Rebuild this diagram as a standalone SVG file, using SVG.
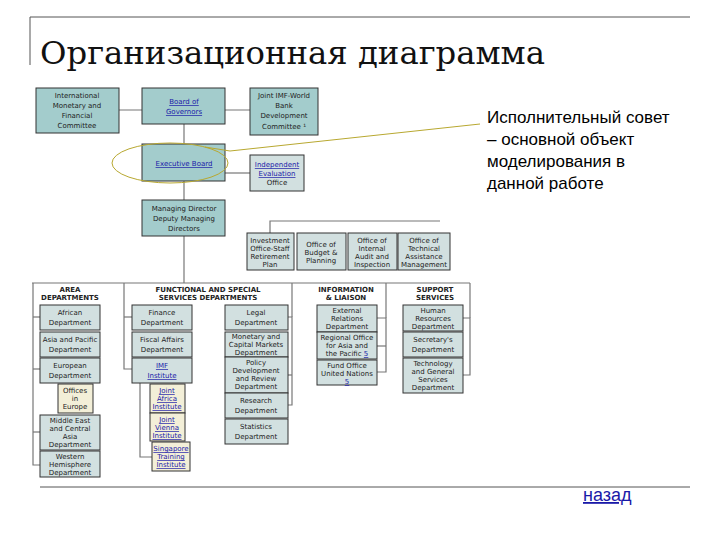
<svg xmlns="http://www.w3.org/2000/svg" width="720" height="540" viewBox="0 0 720 540">
<style>
.t{fill:#a3cccc;stroke:#333;stroke-width:1}
.g{fill:#d2e0e0;stroke:#333;stroke-width:1}
.b{fill:#f3efd8;stroke:#333;stroke-width:1}
text{font-family:"DejaVu Sans",sans-serif;font-size:7px;fill:#222;text-anchor:middle}
.l{fill:#1a1aa8;text-decoration:underline}
.h{font-weight:bold;font-size:7px}
text.ti{font-family:"DejaVu Serif","Liberation Serif",serif;font-size:32px;text-anchor:start;fill:#111}
text.r{font-family:"Liberation Sans",Arial,sans-serif;font-size:17px;text-anchor:start;fill:#000}
text.bk{font-family:"Liberation Sans",Arial,sans-serif;font-size:18px;text-anchor:start;fill:#1a1aa8;text-decoration:underline}
.c line,.c polyline{stroke:#777;stroke-width:1.2;fill:none}
</style>
<rect width="720" height="540" fill="#fff"/>
<g id="frame" stroke="#555" stroke-width="1" fill="none">
<line x1="30" y1="17" x2="690" y2="17"/><line x1="30" y1="17" x2="30" y2="65"/>
<line x1="40" y1="487" x2="690" y2="487"/>
</g>
<text class="ti" x="40" y="64" textLength="505" lengthAdjust="spacingAndGlyphs">Организационная диаграмма</text>
<g class="c">
<line x1="119" y1="110" x2="250" y2="110"/>
<line x1="184" y1="124" x2="184" y2="144"/>
<line x1="225" y1="173" x2="250" y2="173"/>
<line x1="184" y1="181" x2="184" y2="283"/>
<polyline points="270,233 270,221 440,221"/>
<line x1="32" y1="283" x2="470" y2="283"/>
<polyline points="33,283 33,465 40,465"/>
<line x1="33" y1="317" x2="40" y2="317"/><line x1="33" y1="369" x2="40" y2="369"/><line x1="33" y1="432" x2="40" y2="432"/>
<polyline points="124,283 124,369 132,369"/><line x1="124" y1="317" x2="132" y2="317"/>
<polyline points="140,383 140,457 152,457"/>
<polyline points="288,317 292,317 292,405 288,405"/><line x1="288" y1="375" x2="292" y2="375"/>
<polyline points="292,283 292,317"/>
<polyline points="377,318 386,318 386,372 377,372"/><line x1="377" y1="346" x2="386" y2="346"/><line x1="386" y1="283" x2="386" y2="318"/>
<polyline points="463,318 470,318 470,375 463,375"/><line x1="470" y1="283" x2="470" y2="318"/>
</g>
<g id="imfc"><rect class="t" x="36" y="88" width="83" height="45"/><text x="77" y="98">International</text><text x="77" y="108">Monetary and</text><text x="77" y="118">Financial</text><text x="77" y="128">Committee</text></g>
<g id="bog"><rect class="t" x="142" y="88" width="83" height="36"/><text class="l" x="184" y="104">Board of</text><text class="l" x="184" y="114">Governors</text></g>
<g id="dc"><rect class="t" x="250" y="88" width="68" height="47"/><text x="284" y="98">Joint IMF-World</text><text x="284" y="108">Bank</text><text x="284" y="118">Development</text><text x="284" y="129">Committee ¹</text></g>
<g id="eb"><rect class="t" x="142" y="144" width="83" height="37"/><text class="l" x="184" y="166">Executive Board</text></g>
<g id="ieo"><rect class="g" x="250" y="155" width="54" height="36"/><text class="l" x="277" y="167">Independent</text><text class="l" x="277" y="176">Evaluation</text><text x="277" y="185">Office</text></g>
<g id="md"><rect class="t" x="142" y="200" width="83" height="36"/><text x="184" y="211">Managing Director</text><text x="184" y="221">Deputy Managing</text><text x="184" y="231">Directors</text></g>
<g id="inv"><rect class="g" x="247" y="233" width="47" height="37"/><text x="270" y="243">Investment</text><text x="270" y="251">Office-Staff</text><text x="270" y="259">Retirement</text><text x="270" y="267">Plan</text></g>
<g id="obp"><rect class="g" x="297" y="233" width="49" height="37"/><text x="321" y="247">Office of</text><text x="321" y="255">Budget &amp;</text><text x="321" y="263">Planning</text></g>
<g id="oia"><rect class="g" x="348" y="233" width="49" height="37"/><text x="372" y="243">Office of</text><text x="372" y="251">Internal</text><text x="372" y="259">Audit and</text><text x="372" y="267">Inspection</text></g>
<g id="ota"><rect class="g" x="398" y="233" width="52" height="37"/><text x="424" y="243">Office of</text><text x="424" y="251">Technical</text><text x="424" y="259">Assistance</text><text x="424" y="267">Management</text></g>
<g id="heads"><text class="h" x="70" y="292">AREA</text><text class="h" x="70" y="300">DEPARTMENTS</text>
<text class="h" x="208" y="292">FUNCTIONAL AND SPECIAL</text><text class="h" x="208" y="300">SERVICES DEPARTMENTS</text>
<text class="h" x="346" y="292">INFORMATION</text><text class="h" x="346" y="300">&amp; LIAISON</text>
<text class="h" x="435" y="292">SUPPORT</text><text class="h" x="435" y="300">SERVICES</text></g>
<g id="afr"><rect class="g" x="40" y="305" width="60" height="25"/><text x="70" y="315">African</text><text x="70" y="325">Department</text></g>
<g id="apd"><rect class="g" x="40" y="332" width="60" height="25"/><text x="70" y="342">Asia and Pacific</text><text x="70" y="352">Department</text></g>
<g id="eur"><rect class="g" x="40" y="358" width="60" height="25"/><text x="70" y="368">European</text><text x="70" y="378">Department</text></g>
<g id="oie"><rect class="b" x="58" y="384" width="35" height="29"/><text x="75" y="393">Offices</text><text x="75" y="401">in</text><text x="75" y="409">Europe</text></g>
<g id="mcd"><rect class="g" x="40" y="415" width="60" height="35"/><text x="70" y="423">Middle East</text><text x="70" y="431">and Central</text><text x="70" y="439">Asia</text><text x="70" y="447">Department</text></g>
<g id="whd"><rect class="g" x="40" y="451" width="60" height="26"/><text x="70" y="459">Western</text><text x="70" y="467">Hemisphere</text><text x="70" y="475">Department</text></g>
<g id="fin"><rect class="g" x="132" y="305" width="60" height="25"/><text x="162" y="315">Finance</text><text x="162" y="325">Department</text></g>
<g id="fad"><rect class="g" x="132" y="332" width="60" height="25"/><text x="162" y="342">Fiscal Affairs</text><text x="162" y="352">Department</text></g>
<g id="ins"><rect class="g" x="132" y="358" width="60" height="25"/><text class="l" x="162" y="368">IMF</text><text class="l" x="162" y="378">Institute</text></g>
<g id="jai"><rect class="b" x="150" y="384" width="35" height="29"/><text class="l" x="167" y="393">Joint</text><text class="l" x="167" y="401">Africa</text><text class="l" x="167" y="409">Institute</text></g>
<g id="jvi"><rect class="b" x="150" y="413" width="35" height="28"/><text class="l" x="167" y="422">Joint</text><text class="l" x="167" y="430">Vienna</text><text class="l" x="167" y="438">Institute</text></g>
<g id="sti"><rect class="b" x="152" y="442" width="38" height="29"/><text class="l" x="171" y="451">Singapore</text><text class="l" x="171" y="459">Training</text><text class="l" x="171" y="467">Institute</text></g>
<g id="leg"><rect class="g" x="225" y="305" width="63" height="25"/><text x="256" y="315">Legal</text><text x="256" y="325">Department</text></g>
<g id="mcm"><rect class="g" x="225" y="332" width="63" height="25"/><text x="256" y="339">Monetary and</text><text x="256" y="347">Capital Markets</text><text x="256" y="355">Department</text></g>
<g id="pdr"><rect class="g" x="225" y="357" width="63" height="36"/><text x="256" y="365">Policy</text><text x="256" y="373">Development</text><text x="256" y="381">and Review</text><text x="256" y="389">Department</text></g>
<g id="res"><rect class="g" x="225" y="393" width="63" height="25"/><text x="256" y="403">Research</text><text x="256" y="413">Department</text></g>
<g id="sta"><rect class="g" x="225" y="419" width="63" height="25"/><text x="256" y="429">Statistics</text><text x="256" y="439">Department</text></g>
<g id="ext"><rect class="g" x="317" y="305" width="60" height="27"/><text x="347" y="313">External</text><text x="347" y="321">Relations</text><text x="347" y="329">Department</text></g>
<g id="oap"><rect class="g" x="317" y="332" width="60" height="27"/><text x="347" y="340">Regional Office</text><text x="347" y="348">for Asia and</text><text x="347" y="356">the Pacific <tspan class="l">5</tspan></text></g>
<g id="unf"><rect class="g" x="317" y="360" width="60" height="25"/><text x="347" y="368">Fund Office</text><text x="347" y="376">United Nations</text><text class="l" x="347" y="384">5</text></g>
<g id="hrd"><rect class="g" x="403" y="305" width="60" height="26"/><text x="433" y="313">Human</text><text x="433" y="321">Resources</text><text x="433" y="329">Department</text></g>
<g id="sec"><rect class="g" x="403" y="332" width="60" height="25"/><text x="433" y="342">Secretary's</text><text x="433" y="352">Department</text></g>
<g id="tgs"><rect class="g" x="403" y="358" width="60" height="35"/><text x="433" y="366">Technology</text><text x="433" y="374">and General</text><text x="433" y="382">Services</text><text x="433" y="390">Department</text></g>
<g id="callout" fill="none" stroke="#b8a830" stroke-width="1">
<ellipse cx="170" cy="163" rx="58" ry="20"/>
<polyline points="205,147 230,151 480,124"/>
</g>
<text class="r" x="487" y="123">Исполнительный совет</text>
<text class="r" x="487" y="145">– основной объект</text>
<text class="r" x="487" y="167">моделирования в</text>
<text class="r" x="487" y="189">данной работе</text>
<text class="bk" x="583" y="501">назад</text>
</svg>
